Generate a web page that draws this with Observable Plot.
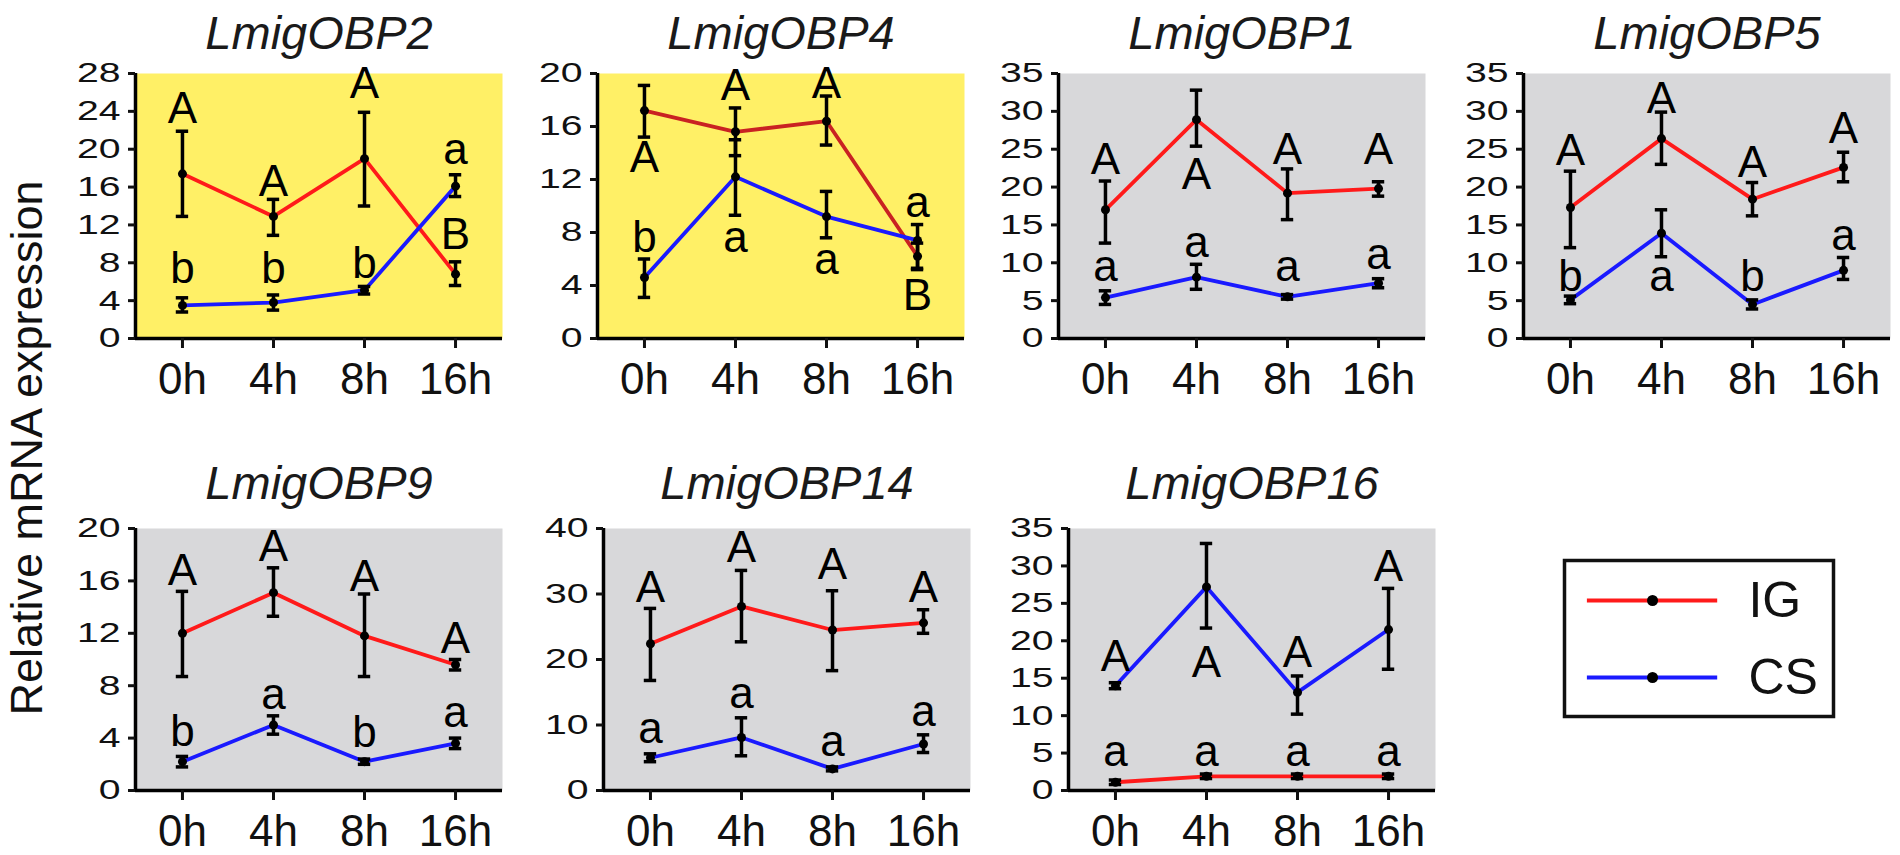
<!DOCTYPE html>
<html><head><meta charset="utf-8">
<script src="https://cdn.jsdelivr.net/npm/d3@7"></script>
<script src="https://cdn.jsdelivr.net/npm/@observablehq/plot@0.6"></script>
<style>
body{margin:0;background:#fff;}
#wrap{position:relative;width:1900px;height:855px;overflow:hidden;font-family:"Liberation Sans",Arial,sans-serif;background:#fff;}
.panel{position:absolute;}
.panel svg{overflow:visible;}
#ylab{position:absolute;left:27px;top:448px;transform:translate(-50%,-50%) rotate(-90deg);font-size:45px;white-space:nowrap;color:#111;}
</style></head><body>
<div id="wrap"><div id="ylab">Relative mRNA expression</div></div>
<script>
// ---- data ----
const times = ["0h", "4h", "8h", "16h"];
const groups = ["IG", "CS"];
const genes = ["LmigOBP2", "LmigOBP4", "LmigOBP1", "LmigOBP5", "LmigOBP9", "LmigOBP14", "LmigOBP16"];
const yMax = [28, 20, 35, 35, 20, 40, 35];
const yStep = [4, 4, 5, 5, 4, 10, 5];

const igMean = [
  [17.4, 12.9, 19.0, 6.8],
  [17.2, 15.6, 16.4, 6.2],
  [17.0, 28.9, 19.2, 19.8],
  [17.3, 26.4, 18.4, 22.6],
  [12.0, 15.1, 11.8, 9.6],
  [22.4, 28.1, 24.5, 25.6],
  [1.1, 1.9, 1.9, 1.9]
];
const igLo = [
  [12.9, 10.9, 14.0, 5.6],
  [15.2, 13.8, 14.6, 5.2],
  [12.6, 25.4, 15.7, 18.8],
  [12.0, 23.0, 16.2, 20.7],
  [8.7, 13.3, 8.7, 9.2],
  [16.8, 22.7, 18.3, 24.0],
  [0.8, 1.6, 1.6, 1.6]
];
const igHi = [
  [21.9, 14.7, 23.9, 8.1],
  [19.1, 17.4, 18.3, 7.2],
  [20.8, 32.8, 22.4, 20.7],
  [22.1, 29.9, 20.6, 24.6],
  [15.2, 17.0, 15.0, 10.0],
  [27.8, 33.6, 30.5, 27.6],
  [1.4, 2.2, 2.2, 2.2]
];
const csMean = [
  [3.5, 3.8, 5.1, 16.1],
  [4.6, 12.2, 9.2, 7.4],
  [5.4, 8.1, 5.5, 7.3],
  [5.1, 13.9, 4.5, 9.0],
  [2.2, 5.0, 2.2, 3.6],
  [5.0, 8.1, 3.3, 7.1],
  [14.0, 27.2, 13.1, 21.5]
];
const csLo = [
  [2.8, 3.0, 4.7, 15.0],
  [3.1, 9.3, 7.6, 5.3],
  [4.5, 6.5, 5.2, 6.7],
  [4.6, 10.8, 3.9, 7.8],
  [1.8, 4.3, 2.0, 3.2],
  [4.4, 5.3, 3.0, 5.8],
  [13.6, 21.7, 10.2, 16.2]
];
const csHi = [
  [4.3, 4.6, 5.5, 17.3],
  [6.0, 15.0, 11.1, 8.6],
  [6.3, 9.8, 5.8, 7.9],
  [5.6, 17.0, 5.1, 10.7],
  [2.6, 5.7, 2.4, 4.0],
  [5.6, 11.1, 3.6, 8.5],
  [14.4, 33.0, 15.3, 27.0]
];
const igLetters = [
  ["A", "A", "A", "B"],
  ["A", "A", "A", "B"],
  ["A", "A", "A", "A"],
  ["A", "A", "A", "A"],
  ["A", "A", "A", "A"],
  ["A", "A", "A", "A"],
  ["a", "a", "a", "a"]
];
const igLetterY = [
  [24.3, 16.5, 26.9, 10.9],
  [13.6, 19.1, 19.2, 3.2],
  [23.6, 21.6, 24.9, 24.9],
  [24.8, 31.7, 23.2, 27.7],
  [16.8, 18.6, 16.3, 11.6],
  [30.9, 37.0, 34.4, 30.9],
  [5.1, 5.1, 5.1, 5.1]
];
const csLetters = [
  ["b", "b", "b", "a"],
  ["b", "a", "a", "a"],
  ["a", "a", "a", "a"],
  ["b", "a", "b", "a"],
  ["b", "a", "b", "a"],
  ["a", "a", "a", "a"],
  ["A", "A", "A", "A"]
];
const csLetterY = [
  [7.4, 7.4, 7.9, 19.9],
  [7.6, 7.6, 5.9, 10.2],
  [9.5, 12.6, 9.5, 11.0],
  [8.2, 8.2, 8.2, 13.5],
  [4.5, 7.3, 4.4, 5.9],
  [9.4, 14.8, 7.4, 12.0],
  [17.9, 17.1, 18.4, 29.9]
];

// ---- styling / layout ----
const FONT = '"Liberation Sans", Arial, sans-serif';
const panelAxisX = [135, 597, 1058, 1523, 135, 603, 1068];
const panelRow = [0, 0, 0, 0, 1, 1, 1];
const panelFill = ["#fff066", "#fff066", "#d8d8da", "#d8d8da", "#d8d8da", "#d8d8da", "#d8d8da"];
const igColor = ["#ff1a1a", "#c92222", "#ff1a1a", "#ff1a1a", "#ff1a1a", "#ff1a1a", "#ff1a1a"];
const csColor = "#1a1aff";
const xDomain = [-0.516, 3.516];
const capHalf = 0.068;
const wrap = document.getElementById("wrap");

function panel(k) {
  const rows = [];
  times.forEach((t, i) => {
    rows.push({group: "IG", i, mean: igMean[k][i], lo: igLo[k][i], hi: igHi[k][i]});
    rows.push({group: "CS", i, mean: csMean[k][i], lo: csLo[k][i], hi: csHi[k][i]});
  });
  const letters = times.flatMap((t, i) => [
    {i, y: igLetterY[k][i], text: igLetters[k][i]},
    {i, y: csLetterY[k][i], text: csLetters[k][i]}
  ]);
  const ticks = d3.range(0, yMax[k] + 0.001, yStep[k]);
  const row = panelRow[k];
  const svg = Plot.plot({
    width: 487, height: 400,
    marginLeft: 110, marginRight: 10, marginTop: 73, marginBottom: row ? 65 : 62,
    x: {domain: xDomain, axis: null},
    y: {domain: [0, yMax[k]], axis: null},
    color: {domain: groups, range: [igColor[k], csColor]},
    style: {fontFamily: FONT, background: "transparent", overflow: "visible", color: "#111"},
    marks: [
      Plot.frame({fill: panelFill[k], stroke: "none"}),
      Plot.line(rows, {x: "i", y: "mean", z: "group", stroke: "group", strokeWidth: 3.8}),
      Plot.ruleX(rows, {x: "i", y1: "lo", y2: "hi", stroke: "#000", strokeWidth: 3.5}),
      Plot.ruleY(rows, {y: "hi", x1: d => d.i - capHalf, x2: d => d.i + capHalf, stroke: "#000", strokeWidth: 3.5}),
      Plot.ruleY(rows, {y: "lo", x1: d => d.i - capHalf, x2: d => d.i + capHalf, stroke: "#000", strokeWidth: 3.5}),
      Plot.dot(rows, {x: "i", y: "mean", r: 4.5, fill: "#000"}),
      Plot.text(letters, {x: "i", y: "y", text: "text", fontSize: 44, fill: "#000"}),
      Plot.ruleX([xDomain[0]], {stroke: "#000", strokeWidth: 3.5}),
      Plot.ruleY([0], {stroke: "#000", strokeWidth: 3.5}),
      Plot.axisY({ticks, tickSize: 7, tickPadding: 8, fontSize: 28, strokeWidth: 3, label: null}),
      Plot.axisX({ticks: [0, 1, 2, 3], tickFormat: i => times[i], tickSize: 10, tickPadding: 14, fontSize: 44, strokeWidth: 3, label: null}),
      Plot.text([genes[k]], {text: d => d, frameAnchor: "top", lineAnchor: "middle", dy: row ? -45 : -40, fontSize: 47, fontStyle: "italic", fill: "#1a1a1a"})
    ]
  });
  svg.querySelectorAll('[aria-label="y-axis tick label"] text').forEach(el => {
    const t = el.getAttribute("transform") || "";
    el.setAttribute("transform", t + " scale(1.4,1)");
  });
  const div = document.createElement("div");
  div.className = "panel";
  div.style.left = (panelAxisX[k] - 110) + "px";
  div.style.top = (row ? 455 : 0) + "px";
  div.appendChild(svg);
  wrap.appendChild(div);
}
genes.forEach((g, k) => panel(k));

// ---- legend ----
const legendRows = groups.map(g => ({group: g}));
const legend = Plot.plot({
  width: 267, height: 157, marginTop: 3, marginBottom: 0, marginLeft: 0, marginRight: 0,
  x: {domain: [0, 1], axis: null},
  y: {type: "point", domain: groups, padding: 0.5, axis: null},
  color: {domain: groups, range: ["#ff1a1a", csColor]},
  style: {fontFamily: FONT, background: "transparent", overflow: "visible"},
  marks: [
    Plot.frame({stroke: "#111", strokeWidth: 3.5, inset: -1}),
    Plot.ruleY(legendRows, {y: "group", x1: () => 0.082, x2: () => 0.57, stroke: "group", strokeWidth: 4}),
    Plot.dot(legendRows, {y: "group", x: () => 0.326, r: 5.5, fill: "#000"}),
    Plot.text(legendRows, {y: "group", x: () => 0.685, text: "group", textAnchor: "start", fontSize: 50, fill: "#111"})
  ]
});
const ld = document.createElement("div");
ld.className = "panel";
ld.style.left = "1565px";
ld.style.top = "558px";
ld.appendChild(legend);
wrap.appendChild(ld);
</script>
</body></html>
